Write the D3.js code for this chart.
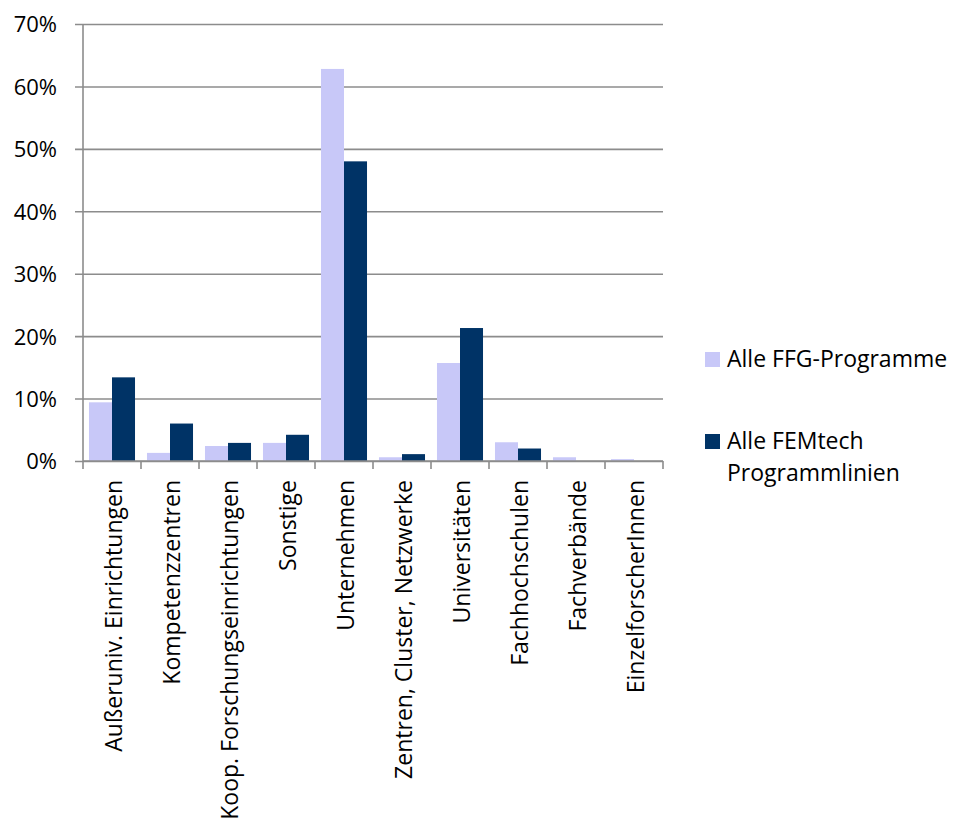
<!DOCTYPE html>
<html>
<head>
<meta charset="utf-8">
<script src="https://cdn.jsdelivr.net/npm/d3@7"></script>
<style>
  html, body { margin: 0; padding: 0; background: #fff; }
  svg { display: block; }
  svg text { font-family: "Open Sans", "Noto Sans", sans-serif; }
</style>
</head>
<body>
<svg id="chart" width="958" height="818"></svg>
<script>
// Categories of participating organisations
const categories = [
  "Außeruniv. Einrichtungen",
  "Kompetenzzentren",
  "Koop. Forschungseinrichtungen",
  "Sonstige",
  "Unternehmen",
  "Zentren, Cluster, Netzwerke",
  "Universitäten",
  "Fachhochschulen",
  "Fachverbände",
  "EinzelforscherInnen"
];

// Share of participants per category (in %)
const ffgValues     = [9.4, 1.3, 2.4, 2.9, 62.8, 0.6, 15.7, 3.0, 0.6, 0.3];
const femtechValues = [13.4, 6.0, 2.9, 4.2, 48.0, 1.1, 21.3, 2.0, 0.0, 0.0];

const seriesNames  = ["Alle FFG-Programme", "Alle FEMtech Programmlinien"];
const seriesColors = ["#c8c8f8", "#003366"];
const yTicks = [0, 10, 20, 30, 40, 50, 60, 70];

const svg = d3.select("#chart");
const plot = { left: 83, right: 663, top: 24, bottom: 461 };

const x0 = d3.scaleBand().domain(categories).range([plot.left, plot.right]).padding(0);
const x1 = d3.scaleBand().domain(seriesNames).range([0, x0.bandwidth()]).paddingInner(0).paddingOuter(0.26);
const y = d3.scaleLinear().domain([0, 70]).range([plot.bottom, plot.top]);

const gridColor = "#8c8c8c";
const fontFamily = '"Open Sans", "Noto Sans", sans-serif';

// Horizontal gridlines with short ticks left of the axis
const yAxis = d3.axisLeft(y)
  .tickValues(yTicks)
  .tickSize(-(plot.right - plot.left))
  .tickSizeOuter(0)
  .tickPadding(26)
  .tickFormat(d => d + "%");

const gy = svg.append("g")
  .attr("transform", `translate(${plot.left},0)`)
  .call(yAxis)
  .attr("font-family", fontFamily);
gy.select(".domain").remove();
gy.selectAll(".tick line")
  .attr("x1", -8)
  .attr("stroke", gridColor)
  .attr("stroke-width", 1.6);
gy.selectAll(".tick text")
  .attr("fill", "#000")
  .style("font-size", "22px")
  .attr("dy", "0.36em");

// Bars
const rows = categories.map((c, i) => ({ cat: c, vals: [ffgValues[i], femtechValues[i]] }));
const groups = svg.append("g").selectAll("g")
  .data(rows)
  .join("g")
  .attr("transform", d => `translate(${x0(d.cat)},0)`);

groups.selectAll("rect")
  .data(d => d.vals.map((v, k) => ({ key: seriesNames[k], v, k })))
  .join("rect")
  .attr("x", d => x1(d.key))
  .attr("width", x1.bandwidth())
  .attr("y", d => y(d.v))
  .attr("height", d => y(0) - y(d.v))
  .attr("fill", d => seriesColors[d.k]);

// Vertical axis line
svg.append("line")
  .attr("x1", plot.left).attr("x2", plot.left)
  .attr("y1", plot.top).attr("y2", plot.bottom)
  .attr("stroke", gridColor).attr("stroke-width", 1.6);

// Category axis with tick marks between groups
const bounds = categories.map(c => x0(c)).concat([plot.right]);
const gx = svg.append("g");
gx.append("line")
  .attr("x1", plot.left).attr("x2", plot.right)
  .attr("y1", plot.bottom).attr("y2", plot.bottom)
  .attr("stroke", gridColor).attr("stroke-width", 1.6);
gx.selectAll("line.tick")
  .data(bounds)
  .join("line")
  .attr("class", "tick")
  .attr("x1", d => d).attr("x2", d => d)
  .attr("y1", plot.bottom).attr("y2", plot.bottom + 8)
  .attr("stroke", gridColor).attr("stroke-width", 1.6);

gx.selectAll("text")
  .data(categories)
  .join("text")
  .attr("transform", d => `translate(${x0(d) + x0.bandwidth() / 2 + 10},${plot.bottom + 19}) rotate(-90)`)
  .attr("text-anchor", "end")
  .style("font-size", "23px")
  .attr("fill", "#000")
  .text(d => d);

// Legend
const legend = svg.append("g");
const legendItems = [
  { lines: ["Alle FFG-Programme"], y: 352 },
  { lines: ["Alle FEMtech", "Programmlinien"], y: 434 }
];
legendItems.forEach((item, k) => {
  legend.append("rect")
    .attr("x", 705).attr("y", item.y)
    .attr("width", 15).attr("height", 15)
    .attr("fill", seriesColors[k]);
  item.lines.forEach((t, j) => {
    legend.append("text")
      .attr("x", 727)
      .attr("y", item.y + 15 + j * 32)
      .style("font-size", "23px")
      .attr("fill", "#000")
      .text(t);
  });
});
</script>
</body>
</html>
